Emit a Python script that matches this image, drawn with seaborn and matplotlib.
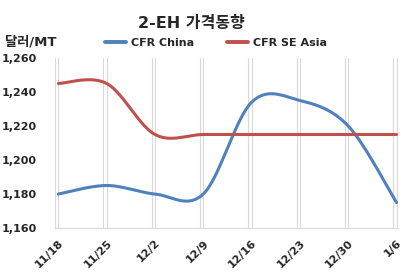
import numpy as np
import pandas as pd
import matplotlib
matplotlib.use("Agg")
import matplotlib.pyplot as plt
import seaborn as sns

# ---- data ----
dates = ["11/18", "11/25", "12/2", "12/9", "12/16", "12/23", "12/30", "1/6"]
cfr_china = [1180, 1185, 1180, 1180, 1234, 1235, 1220, 1175]
cfr_se_asia = [1245, 1245, 1215, 1215, 1215, 1215, 1215, 1215]
series_names = ["CFR China", "CFR SE Asia"]
colors = ["#4F81BD", "#C0504D"]
y_ticks = [1160, 1180, 1200, 1220, 1240, 1260]


def smooth(y, n=40):
    """Excel-style smoothed line (Catmull-Rom Bezier) through the points."""
    y = np.asarray(y, float)
    x = np.arange(len(y), dtype=float)
    yp = np.concatenate([[y[0]], y, [y[-1]]])
    xp = np.concatenate([[x[0]], x, [x[-1]]])
    t = np.linspace(0, 1, n)
    xs, ys = [], []
    for i in range(len(y) - 1):
        p0 = np.array([x[i], y[i]])
        p3 = np.array([x[i + 1], y[i + 1]])
        c1 = p0 + np.array([xp[i + 2] - xp[i], yp[i + 2] - yp[i]]) / 6
        c2 = p3 - np.array([xp[i + 3] - xp[i + 1], yp[i + 3] - yp[i + 1]]) / 6
        b = ((1 - t) ** 3)[:, None] * p0 + (3 * (1 - t) ** 2 * t)[:, None] * c1 \
            + (3 * (1 - t) * t ** 2)[:, None] * c2 + (t ** 3)[:, None] * p3
        if i > 0:
            b = b[1:]
        xs.append(b[:, 0])
        ys.append(b[:, 1])
    return np.concatenate(xs), np.concatenate(ys)


frames = []
for name, vals in zip(series_names, [cfr_china, cfr_se_asia]):
    sx, sy = smooth(vals)
    frames.append(pd.DataFrame({"x": sx, "y": sy, "series": name,
                                "order": np.arange(len(sx))}))
df = pd.concat(frames, ignore_index=True)

sns.set_theme(style="white")
plt.rcParams["font.family"] = ["DejaVu Sans", "Noto Sans CJK KR"]
plt.rcParams["font.weight"] = "bold"

W, H = 409, 279
fig = plt.figure(figsize=(W / 100, H / 100), dpi=100)
ax = fig.add_axes([55 / W, (H - 228) / H, (398 - 55) / W, (228 - 58) / H])

sns.lineplot(data=df, x="x", y="y", hue="series", palette=colors,
             hue_order=series_names, sort=False, estimator=None,
             linewidth=2.2, ax=ax, legend=False, zorder=3)

ax.set_xlim(-0.07, 7.03)
ax.set_ylim(1160, 1260)
ax.set_yticks(y_ticks)
ax.set_yticklabels([f"{v:,}" for v in y_ticks], fontsize=8, fontweight="bold")
ax.set_xticks(range(len(dates)))
ax.set_xticks([i - 0.07 for i in range(len(dates))], minor=True)
ax.set_xticklabels(dates, rotation=45, ha="right", rotation_mode="anchor",
                   fontsize=8, fontweight="bold")
ax.tick_params(axis="both", which="both", length=0)
ax.tick_params(axis="y", pad=13)
ax.tick_params(axis="x", pad=7)
ax.grid(axis="x", which="both", color="#D9D9D9", linewidth=0.8)
ax.grid(axis="y", visible=False)
ax.set_xlabel("")
ax.set_ylabel("")
for s in ["top", "right", "left"]:
    ax.spines[s].set_visible(False)
ax.spines["bottom"].set_color("#D9D9D9")
ax.spines["bottom"].set_linewidth(0.8)

fig.text(191 / W, 1 - 23 / H, "2-EH 가격동향", ha="center", va="center",
         fontsize=11.5, fontweight="bold")
fig.text(5 / W, 1 - 42 / H, "달러/MT", ha="left", va="center",
         fontsize=9.5, fontweight="bold")

handles = [plt.Line2D([], [], color=c, linewidth=2.8) for c in colors]
fig.legend(handles, series_names, loc="center", ncol=2,
           bbox_to_anchor=(216 / W, 1 - 43 / H), frameon=False,
           prop={"size": 8, "weight": "bold"}, handlelength=1.9,
           handletextpad=0.45, columnspacing=3.0, borderaxespad=0,
           borderpad=0)

fig.savefig("out.png", dpi=100)
